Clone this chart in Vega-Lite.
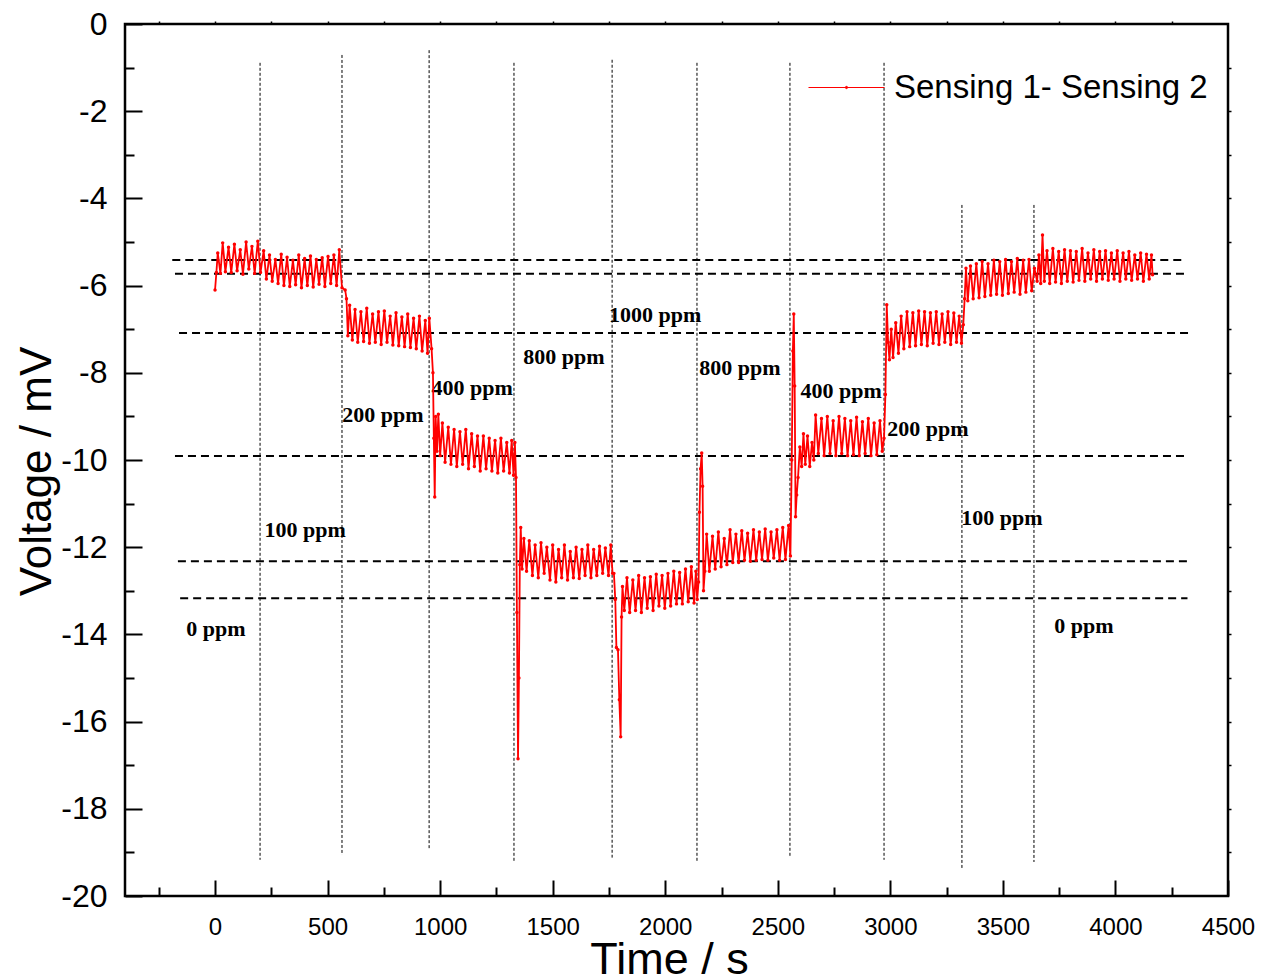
{
  "$schema": "https://vega.github.io/schema/vega-lite/v6.json",
  "width": 1103,
  "height": 872,
  "autosize": "none",
  "padding": {"left": 125, "top": 24, "right": 38, "bottom": 84},
  "background": "white",
  "config": {
    "view": {"stroke": "black", "strokeWidth": 2.5},
    "axis": {"grid": false, "domain": false, "labelFlush": false, "tickColor": "black", "labelColor": "black", "titleColor": "black", "labelFont": "Liberation Sans", "titleFont": "Liberation Sans", "titleFontWeight": "normal"}
  },
  "datasets": {
    "vlines": [
      {"t": 200, "y1": -0.89, "y2": -19.17},
      {"t": 564, "y1": -0.71, "y2": -19.06},
      {"t": 951, "y1": -0.6, "y2": -18.94},
      {"t": 1328, "y1": -0.89, "y2": -19.22},
      {"t": 1764, "y1": -0.82, "y2": -19.12},
      {"t": 2141, "y1": -0.89, "y2": -19.22},
      {"t": 2554, "y1": -0.89, "y2": -19.12},
      {"t": 2972, "y1": -0.89, "y2": -19.17},
      {"t": 3318, "y1": -4.15, "y2": -19.4},
      {"t": 3638, "y1": -4.15, "y2": -19.22}
    ],
    "hlines": [
      {"v": -5.41, "t1": -190, "t2": 4300},
      {"v": -5.73, "t1": -178, "t2": 4310},
      {"v": -7.09, "t1": -160, "t2": 4330},
      {"v": -9.91, "t1": -178, "t2": 4310},
      {"v": -12.32, "t1": -165, "t2": 4330},
      {"v": -13.17, "t1": -155, "t2": 4320}
    ],
    "labels": [
      {"t": 4, "v": -13.88, "text": "0 ppm"},
      {"t": 400, "v": -11.6, "text": "100 ppm"},
      {"t": 746, "v": -8.97, "text": "200 ppm"},
      {"t": 1142, "v": -8.35, "text": "400 ppm"},
      {"t": 1550, "v": -7.64, "text": "800 ppm"},
      {"t": 1955, "v": -6.67, "text": "1000 ppm"},
      {"t": 2332, "v": -7.89, "text": "800 ppm"},
      {"t": 2781, "v": -8.42, "text": "400 ppm"},
      {"t": 3167, "v": -9.29, "text": "200 ppm"},
      {"t": 3496, "v": -11.33, "text": "100 ppm"},
      {"t": 3860, "v": -13.81, "text": "0 ppm"}
    ],
    "series": [
      {"t":0,"v":-6.1},{"t":6,"v":-5.7},{"t":12,"v":-5.25},{"t":24,"v":-5.72},{"t":34,"v":-5.02},{"t":46,"v":-5.68},{"t":60,"v":-5.12},{"t":72,"v":-5.7},{"t":86,"v":-5.05},{"t":98,"v":-5.66},{"t":112,"v":-5.18},{"t":124,"v":-5.74},{"t":138,"v":-5.0},{"t":150,"v":-5.62},{"t":164,"v":-5.1},{"t":176,"v":-5.72},{"t":190,"v":-4.98},{"t":202,"v":-5.7},{"t":216,"v":-5.2},{"t":228,"v":-5.85},{"t":242,"v":-5.3},{"t":254,"v":-5.9},{"t":268,"v":-5.4},{"t":280,"v":-5.95},{"t":294,"v":-5.28},{"t":306,"v":-6.0},{"t":320,"v":-5.35},{"t":332,"v":-6.02},{"t":346,"v":-5.42},{"t":358,"v":-5.98},{"t":372,"v":-5.3},{"t":384,"v":-6.05},{"t":398,"v":-5.38},{"t":410,"v":-6.0},{"t":424,"v":-5.32},{"t":436,"v":-6.03},{"t":450,"v":-5.4},{"t":462,"v":-5.97},{"t":476,"v":-5.36},{"t":488,"v":-6.02},{"t":502,"v":-5.33},{"t":514,"v":-5.95},{"t":528,"v":-5.3},{"t":540,"v":-6.0},{"t":552,"v":-5.18},{"t":564,"v":-6.05},
      {"t":578,"v":-6.1},{"t":584,"v":-6.3},{"t":590,"v":-7.15},{"t":598,"v":-6.45},{"t":610,"v":-7.25},{"t":622,"v":-6.55},{"t":634,"v":-7.3},{"t":648,"v":-6.6},{"t":660,"v":-7.28},{"t":674,"v":-6.52},{"t":686,"v":-7.32},{"t":700,"v":-6.65},{"t":712,"v":-7.3},{"t":726,"v":-6.6},{"t":738,"v":-7.35},{"t":752,"v":-6.58},{"t":764,"v":-7.3},{"t":778,"v":-6.7},{"t":790,"v":-7.36},{"t":804,"v":-6.62},{"t":816,"v":-7.38},{"t":830,"v":-6.72},{"t":842,"v":-7.4},{"t":856,"v":-6.65},{"t":868,"v":-7.42},{"t":882,"v":-6.75},{"t":894,"v":-7.45},{"t":908,"v":-6.7},{"t":920,"v":-7.5},{"t":934,"v":-6.8},{"t":944,"v":-7.55},{"t":952,"v":-6.75},{"t":962,"v":-7.45},
      {"t":968,"v":-8.0},{"t":972,"v":-9.5},{"t":976,"v":-10.85},{"t":980,"v":-9.0},{"t":986,"v":-9.8},{"t":992,"v":-8.95},{"t":1000,"v":-9.9},{"t":1010,"v":-9.15},{"t":1022,"v":-10.05},{"t":1036,"v":-9.25},{"t":1048,"v":-10.1},{"t":1062,"v":-9.3},{"t":1074,"v":-10.15},{"t":1088,"v":-9.35},{"t":1100,"v":-10.1},{"t":1114,"v":-9.3},{"t":1126,"v":-10.2},{"t":1140,"v":-9.4},{"t":1152,"v":-10.15},{"t":1166,"v":-9.45},{"t":1178,"v":-10.25},{"t":1192,"v":-9.45},{"t":1204,"v":-10.2},{"t":1218,"v":-9.5},{"t":1230,"v":-10.25},{"t":1244,"v":-9.55},{"t":1256,"v":-10.3},{"t":1270,"v":-9.5},{"t":1282,"v":-10.25},{"t":1296,"v":-9.6},{"t":1308,"v":-10.3},{"t":1318,"v":-9.55},{"t":1326,"v":-10.35},{"t":1332,"v":-9.6},{"t":1337,"v":-10.4},
      {"t":1341,"v":-13.5},{"t":1346,"v":-16.85},{"t":1350,"v":-15.0},{"t":1354,"v":-12.4},{"t":1358,"v":-11.55},{"t":1364,"v":-12.5},{"t":1372,"v":-11.8},{"t":1384,"v":-12.55},{"t":1396,"v":-11.85},{"t":1410,"v":-12.65},{"t":1422,"v":-11.95},{"t":1436,"v":-12.7},{"t":1448,"v":-11.9},{"t":1462,"v":-12.6},{"t":1474,"v":-12.0},{"t":1488,"v":-12.75},{"t":1500,"v":-11.95},{"t":1514,"v":-12.8},{"t":1526,"v":-12.05},{"t":1540,"v":-12.7},{"t":1552,"v":-11.95},{"t":1566,"v":-12.75},{"t":1578,"v":-12.1},{"t":1592,"v":-12.7},{"t":1604,"v":-12.0},{"t":1618,"v":-12.72},{"t":1630,"v":-12.05},{"t":1644,"v":-12.65},{"t":1656,"v":-11.95},{"t":1670,"v":-12.7},{"t":1682,"v":-12.05},{"t":1696,"v":-12.65},{"t":1708,"v":-11.98},{"t":1722,"v":-12.6},{"t":1734,"v":-12.02},{"t":1748,"v":-12.65},{"t":1758,"v":-11.95},{"t":1766,"v":-12.6},
      {"t":1772,"v":-12.6},{"t":1778,"v":-13.2},{"t":1783,"v":-14.3},{"t":1790,"v":-14.35},{"t":1796,"v":-15.5},{"t":1802,"v":-16.35},{"t":1806,"v":-13.6},{"t":1810,"v":-12.9},{"t":1818,"v":-13.45},{"t":1830,"v":-12.7},{"t":1842,"v":-13.5},{"t":1856,"v":-12.75},{"t":1868,"v":-13.45},{"t":1882,"v":-12.65},{"t":1894,"v":-13.5},{"t":1908,"v":-12.7},{"t":1920,"v":-13.4},{"t":1934,"v":-12.68},{"t":1946,"v":-13.45},{"t":1960,"v":-12.62},{"t":1972,"v":-13.35},{"t":1986,"v":-12.65},{"t":1998,"v":-13.4},{"t":2012,"v":-12.6},{"t":2024,"v":-13.35},{"t":2038,"v":-12.55},{"t":2050,"v":-13.3},{"t":2064,"v":-12.58},{"t":2076,"v":-13.3},{"t":2090,"v":-12.5},{"t":2102,"v":-13.25},{"t":2116,"v":-12.45},{"t":2128,"v":-13.28},{"t":2136,"v":-12.55},{"t":2142,"v":-13.2},
      {"t":2148,"v":-12.8},{"t":2152,"v":-11.2},{"t":2157,"v":-10.2},{"t":2162,"v":-9.84},{"t":2166,"v":-10.6},{"t":2170,"v":-13.0},{"t":2176,"v":-12.55},{"t":2184,"v":-11.7},{"t":2196,"v":-12.55},{"t":2210,"v":-11.75},{"t":2222,"v":-12.5},{"t":2236,"v":-11.65},{"t":2248,"v":-12.45},{"t":2262,"v":-11.8},{"t":2274,"v":-12.4},{"t":2288,"v":-11.6},{"t":2300,"v":-12.35},{"t":2314,"v":-11.7},{"t":2326,"v":-12.35},{"t":2340,"v":-11.62},{"t":2352,"v":-12.3},{"t":2366,"v":-11.68},{"t":2378,"v":-12.32},{"t":2392,"v":-11.6},{"t":2404,"v":-12.3},{"t":2418,"v":-11.65},{"t":2430,"v":-12.28},{"t":2444,"v":-11.58},{"t":2456,"v":-12.3},{"t":2470,"v":-11.65},{"t":2482,"v":-12.25},{"t":2496,"v":-11.6},{"t":2508,"v":-12.3},{"t":2522,"v":-11.55},{"t":2534,"v":-12.28},{"t":2548,"v":-11.5},{"t":2556,"v":-12.2},
      {"t":2562,"v":-10.0},{"t":2567,"v":-7.5},{"t":2571,"v":-6.65},{"t":2575,"v":-8.3},{"t":2579,"v":-11.3},{"t":2584,"v":-10.8},{"t":2590,"v":-10.4},{"t":2598,"v":-9.7},{"t":2606,"v":-10.15},{"t":2614,"v":-9.4},{"t":2622,"v":-10.1},{"t":2632,"v":-9.45},{"t":2642,"v":-10.15},{"t":2652,"v":-9.6},{"t":2660,"v":-10.0},{"t":2668,"v":-8.97},{"t":2680,"v":-9.85},{"t":2694,"v":-9.05},{"t":2706,"v":-9.9},{"t":2720,"v":-9.0},{"t":2732,"v":-9.85},{"t":2746,"v":-9.1},{"t":2758,"v":-9.9},{"t":2772,"v":-9.0},{"t":2784,"v":-9.85},{"t":2798,"v":-9.05},{"t":2810,"v":-9.9},{"t":2824,"v":-9.1},{"t":2836,"v":-9.88},{"t":2850,"v":-9.02},{"t":2862,"v":-9.9},{"t":2876,"v":-9.12},{"t":2888,"v":-9.85},{"t":2902,"v":-9.05},{"t":2914,"v":-9.9},{"t":2928,"v":-9.15},{"t":2940,"v":-9.88},{"t":2954,"v":-9.1},{"t":2964,"v":-9.8},{"t":2972,"v":-9.5},
      {"t":2978,"v":-8.5},{"t":2984,"v":-6.44},{"t":2990,"v":-7.3},{"t":2996,"v":-7.7},{"t":3004,"v":-7.0},{"t":3012,"v":-7.65},{"t":3024,"v":-6.85},{"t":3036,"v":-7.55},{"t":3048,"v":-6.7},{"t":3060,"v":-7.45},{"t":3074,"v":-6.6},{"t":3086,"v":-7.4},{"t":3100,"v":-6.62},{"t":3112,"v":-7.38},{"t":3126,"v":-6.58},{"t":3138,"v":-7.35},{"t":3152,"v":-6.6},{"t":3164,"v":-7.38},{"t":3178,"v":-6.62},{"t":3190,"v":-7.32},{"t":3204,"v":-6.6},{"t":3216,"v":-7.35},{"t":3230,"v":-6.65},{"t":3242,"v":-7.3},{"t":3256,"v":-6.6},{"t":3268,"v":-7.35},{"t":3282,"v":-6.63},{"t":3294,"v":-7.3},{"t":3306,"v":-6.7},{"t":3316,"v":-7.32},
      {"t":3324,"v":-6.9},{"t":3330,"v":-6.3},{"t":3336,"v":-5.6},{"t":3344,"v":-6.35},{"t":3356,"v":-5.55},{"t":3368,"v":-6.3},{"t":3382,"v":-5.5},{"t":3394,"v":-6.28},{"t":3408,"v":-5.45},{"t":3420,"v":-6.25},{"t":3434,"v":-5.5},{"t":3446,"v":-6.22},{"t":3460,"v":-5.42},{"t":3472,"v":-6.2},{"t":3486,"v":-5.45},{"t":3498,"v":-6.22},{"t":3512,"v":-5.4},{"t":3524,"v":-6.18},{"t":3538,"v":-5.45},{"t":3550,"v":-6.15},{"t":3564,"v":-5.38},{"t":3576,"v":-6.2},{"t":3590,"v":-5.42},{"t":3602,"v":-6.15},{"t":3616,"v":-5.4},{"t":3628,"v":-6.12},{"t":3640,"v":-5.6},
      {"t":3652,"v":-5.9},{"t":3660,"v":-5.3},{"t":3668,"v":-5.95},{"t":3676,"v":-4.84},{"t":3684,"v":-5.9},{"t":3696,"v":-5.2},{"t":3708,"v":-5.95},{"t":3722,"v":-5.15},{"t":3734,"v":-5.92},{"t":3748,"v":-5.22},{"t":3760,"v":-5.95},{"t":3774,"v":-5.18},{"t":3786,"v":-5.9},{"t":3800,"v":-5.2},{"t":3812,"v":-5.92},{"t":3826,"v":-5.22},{"t":3838,"v":-5.88},{"t":3852,"v":-5.15},{"t":3864,"v":-5.9},{"t":3878,"v":-5.25},{"t":3890,"v":-5.85},{"t":3904,"v":-5.18},{"t":3916,"v":-5.9},{"t":3930,"v":-5.22},{"t":3942,"v":-5.85},{"t":3956,"v":-5.2},{"t":3968,"v":-5.88},{"t":3982,"v":-5.25},{"t":3994,"v":-5.85},{"t":4008,"v":-5.2},{"t":4020,"v":-5.9},{"t":4034,"v":-5.25},{"t":4046,"v":-5.85},{"t":4060,"v":-5.22},{"t":4072,"v":-5.88},{"t":4086,"v":-5.3},{"t":4098,"v":-5.85},{"t":4112,"v":-5.25},{"t":4124,"v":-5.9},{"t":4138,"v":-5.28},{"t":4150,"v":-5.85},{"t":4160,"v":-5.3},{"t":4165,"v":-5.75}
    ]
  },
  "layer": [
    {
      "data": {"name": "vlines"},
      "mark": {"type": "rule", "color": "black", "strokeWidth": 1, "strokeDash": [3, 2]},
      "encoding": {
        "x": {"field": "t", "type": "quantitative", "scale": {"domain": [-400, 4500], "nice": false, "zero": false},
          "axis": {"orient": "bottom", "values": [-250, 250, 750, 1250, 1750, 2250, 2750, 3250, 3750, 4250], "labels": false, "tickSize": -9, "tickWidth": 2, "title": null}},
        "y": {"field": "y1", "type": "quantitative", "scale": {"domain": [-20, 0], "nice": false, "zero": false},
          "axis": {"orient": "left", "values": [-19, -17, -15, -13, -11, -9, -7, -5, -3, -1], "labels": false, "tickSize": -9, "tickWidth": 2, "title": null}},
        "y2": {"field": "y2"}
      }
    },
    {
      "data": {"name": "hlines"},
      "mark": {"type": "rule", "color": "black", "strokeWidth": 2, "strokeDash": [8, 5]},
      "encoding": {
        "x": {"field": "t1", "type": "quantitative",
          "axis": {"orient": "top", "values": [-250, 0, 250, 500, 750, 1000, 1250, 1500, 1750, 2000, 2250, 2500, 2750, 3000, 3250, 3500, 3750, 4000, 4250], "labels": false, "tickSize": 3, "tickWidth": 1.5, "title": null}},
        "x2": {"field": "t2"},
        "y": {"field": "v", "type": "quantitative",
          "axis": {"orient": "right", "values": [-19, -18, -17, -16, -15, -14, -13, -12, -11, -10, -9, -8, -7, -6, -5, -4, -3, -2, -1], "labels": false, "tickSize": 3, "tickWidth": 1.5, "title": null}}
      }
    },
    {
      "data": {"name": "labels"},
      "mark": {"type": "text", "font": "Liberation Serif", "fontWeight": "bold", "fontSize": 22, "color": "black", "align": "center", "baseline": "middle"},
      "encoding": {
        "x": {"field": "t", "type": "quantitative", "axis": null},
        "y": {"field": "v", "type": "quantitative", "axis": null},
        "text": {"field": "text"}
      }
    },
    {
      "data": {"name": "series"},
      "transform": [{"calculate": "'Sensing 1- Sensing 2'", "as": "series"}],
      "mark": {"type": "line", "strokeWidth": 1.8, "point": {"filled": true, "size": 12}},
      "encoding": {
        "x": {"field": "t", "type": "quantitative",
          "axis": {"orient": "bottom", "values": [0, 500, 1000, 1500, 2000, 2500, 3000, 3500, 4000, 4500], "labelExpr": "datum.value + ''", "tickSize": -16, "tickWidth": 2, "labelFontSize": 24, "labelPadding": 35,
            "title": "Time / s", "titleFontSize": 45, "titleX": 544, "titleY": 77, "titleBaseline": "alphabetic", "titleAlign": "center"}},
        "y": {"field": "v", "type": "quantitative",
          "axis": {"orient": "left", "values": [-20, -18, -16, -14, -12, -10, -8, -6, -4, -2, 0], "labelExpr": "datum.value + ''", "tickSize": -17, "tickWidth": 2, "labelFontSize": 32, "labelPadding": 35,
            "title": "Voltage / mV", "titleFontSize": 44, "titleX": -75, "titleY": 447, "titleAngle": -90, "titleBaseline": "alphabetic", "titleAlign": "center"}},
        "color": {"field": "series", "type": "nominal", "scale": {"range": ["#ff0000"]},
          "legend": {"orient": "none", "legendX": 683, "legendY": 25, "title": null, "symbolType": "M-1,0L1,0M-0.03,0a0.03,0.03 0 1,0 0.06,0a0.03,0.03 0 1,0 -0.06,0", "symbolSize": 5776, "symbolStrokeWidth": 1, "symbolStrokeColor": "#ff0000", "labelFontSize": 33, "labelLimit": 0, "labelFont": "Liberation Sans", "labelColor": "black", "labelOffset": 9}}
      }
    }
  ],
  "resolve": {"axis": {"x": "independent", "y": "independent"}}
}
